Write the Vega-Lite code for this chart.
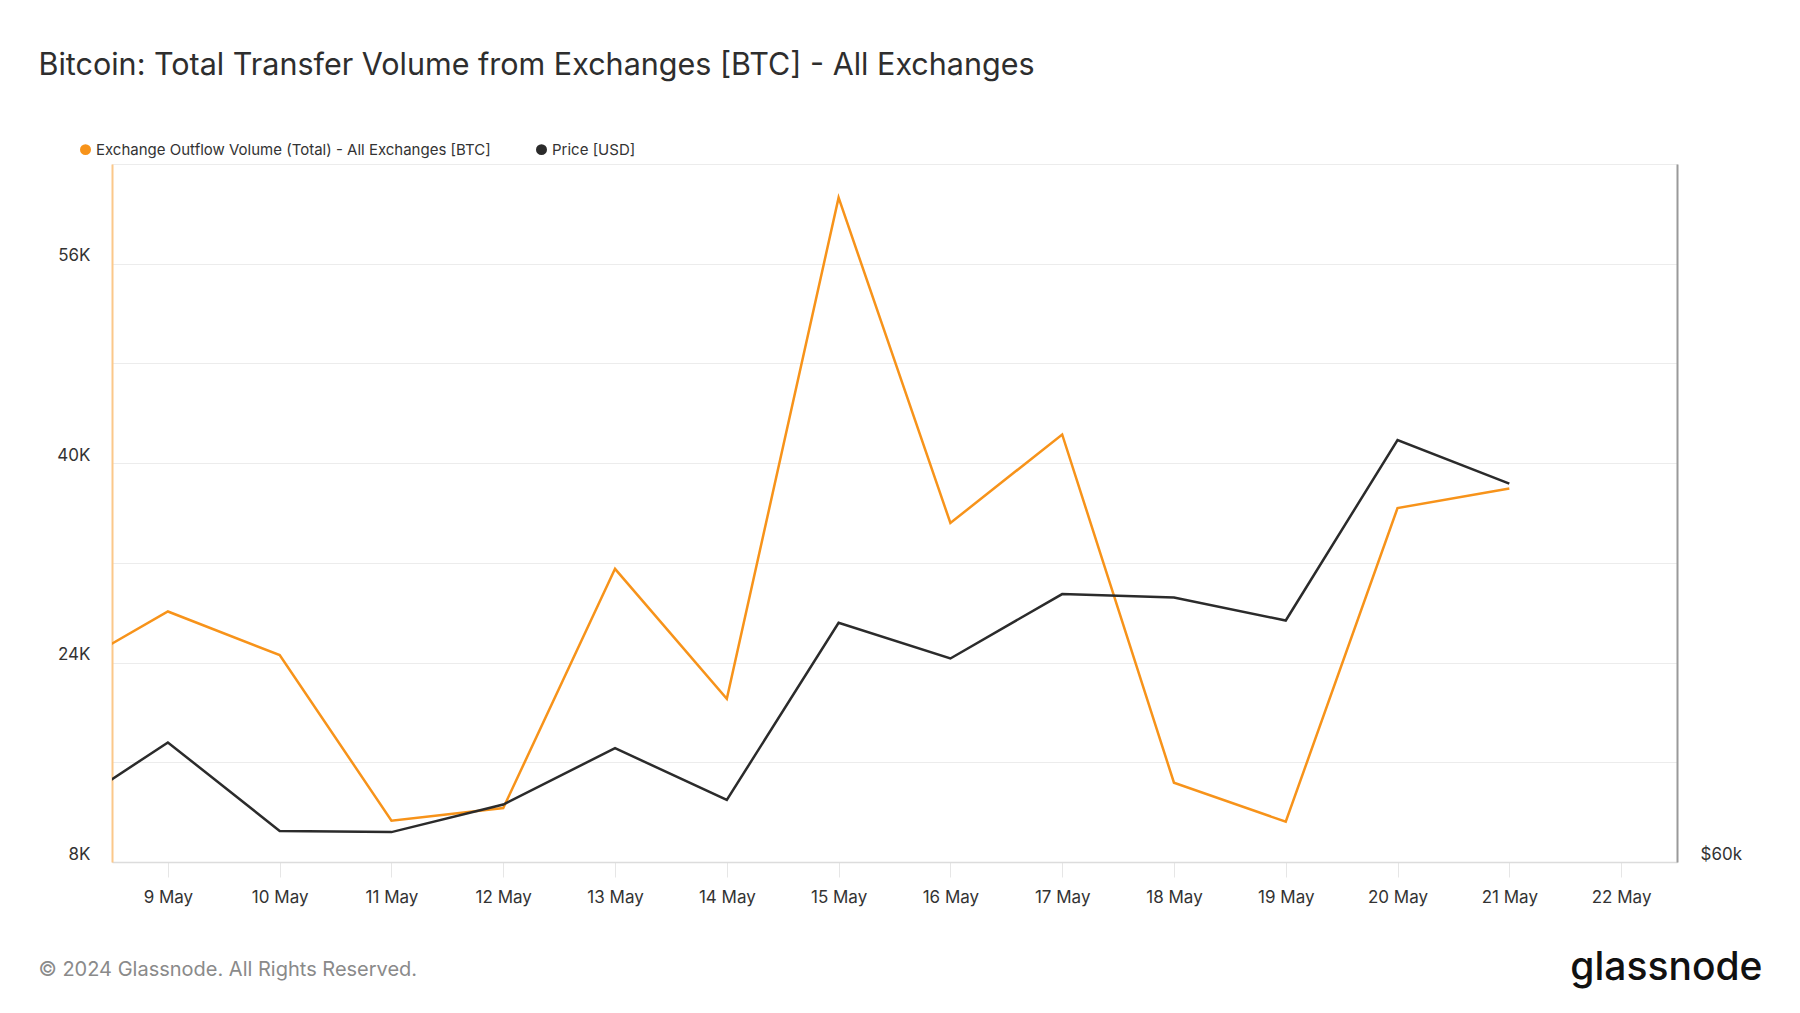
{
  "$schema": "https://vega.github.io/schema/vega-lite/v6.json",
  "width": 1565,
  "height": 698,
  "autosize": {"type": "none"},
  "padding": {"left": 112, "top": 164, "right": 123, "bottom": 151},
  "background": "#ffffff",
  "config": {
    "font": "Inter",
    "view": {"stroke": "#e8e8e8", "strokeWidth": 1},
    "line": {"strokeWidth": 2.5}
  },
  "data": {
    "values": [
      {"date": "2024-05-08", "outflow": 22940, "price": 61250},
      {"date": "2024-05-09", "outflow": 28100, "price": 63255},
      {"date": "2024-05-10", "outflow": 24600, "price": 60845},
      {"date": "2024-05-11", "outflow": 11320, "price": 60814},
      {"date": "2024-05-12", "outflow": 12330, "price": 61565},
      {"date": "2024-05-13", "outflow": 31520, "price": 63099},
      {"date": "2024-05-14", "outflow": 21100, "price": 61690},
      {"date": "2024-05-15", "outflow": 61300, "price": 66511},
      {"date": "2024-05-16", "outflow": 35200, "price": 65540},
      {"date": "2024-05-17", "outflow": 42300, "price": 67293},
      {"date": "2024-05-18", "outflow": 14360, "price": 67199},
      {"date": "2024-05-19", "outflow": 11230, "price": 66573},
      {"date": "2024-05-20", "outflow": 36400, "price": 71488},
      {"date": "2024-05-21", "outflow": 37970, "price": 70298}
    ]
  },
  "encoding": {
    "x": {
      "field": "date",
      "type": "temporal",
      "scale": {
        "type": "utc",
        "domain": [
          {"year": 2024, "month": 5, "date": 8, "hours": 12, "utc": true},
          {"year": 2024, "month": 5, "date": 22, "hours": 12, "utc": true}
        ]
      },
      "axis": {
        "values": [
          {"year": 2024, "month": 5, "date": 9, "utc": true},
          {"year": 2024, "month": 5, "date": 10, "utc": true},
          {"year": 2024, "month": 5, "date": 11, "utc": true},
          {"year": 2024, "month": 5, "date": 12, "utc": true},
          {"year": 2024, "month": 5, "date": 13, "utc": true},
          {"year": 2024, "month": 5, "date": 14, "utc": true},
          {"year": 2024, "month": 5, "date": 15, "utc": true},
          {"year": 2024, "month": 5, "date": 16, "utc": true},
          {"year": 2024, "month": 5, "date": 17, "utc": true},
          {"year": 2024, "month": 5, "date": 18, "utc": true},
          {"year": 2024, "month": 5, "date": 19, "utc": true},
          {"year": 2024, "month": 5, "date": 20, "utc": true},
          {"year": 2024, "month": 5, "date": 21, "utc": true},
          {"year": 2024, "month": 5, "date": 22, "utc": true}
        ],
        "labelExpr": "utcFormat(datum.value, '%-d %b')",
        "grid": false,
        "domainColor": "#dcdcdc",
        "domainWidth": 1.5,
        "tickColor": "#e6e6e6",
        "tickSize": 15,
        "labelFontSize": 17,
        "labelColor": "#333333",
        "labelPadding": 12,
        "title": "© 2024 Glassnode. All Rights Reserved.",
        "titleX": -74,
        "titleY": 107,
        "titleAlign": "left",
        "titleBaseline": "middle",
        "titleAnchor": null,
        "titleFontSize": 20,
        "titleFontWeight": "normal",
        "titleColor": "#8a8a8a"
      }
    },
    "color": {
      "type": "nominal",
      "scale": {
        "domain": ["Exchange Outflow Volume (Total) - All Exchanges [BTC]", "Price [USD]"],
        "range": ["#f7931a", "#2b2b2b"]
      },
      "legend": {
        "title": null,
        "orient": "none",
        "direction": "horizontal",
        "legendX": -34,
        "legendY": -22,
        "symbolType": "circle",
        "symbolSize": 72,
        "labelFontSize": 15,
        "labelColor": "#333333",
        "labelLimit": 0,
        "labelOffset": 3,
        "columnPadding": 41,
        "encoding": {
          "symbols": {
            "fill": {"value": {"expr": "scale('color', datum.value)"}}
          }
        }
      }
    }
  },
  "layer": [
    {
      "mark": {"type": "line", "clip": true},
      "encoding": {
        "color": {"datum": "Exchange Outflow Volume (Total) - All Exchanges [BTC]"},
        "y": {
          "field": "outflow",
          "type": "quantitative",
          "scale": {"domain": [8000, 64000], "nice": false, "zero": false},
          "axis": {
            "values": [8000, 16000, 24000, 32000, 40000, 48000, 56000, 64000],
            "labelExpr": "datum.value % 16000 == 8000 ? format(datum.value / 1000, 'd') + 'K' : ''",
            "grid": true,
            "gridColor": "#ececec",
            "gridWidth": 1,
            "ticks": false,
            "tickSize": 0,
            "domainColor": "#fbc88a",
            "domainWidth": 2,
            "labelFontSize": 17,
            "labelColor": "#333333",
            "labelPadding": 22,
            "labelBaseline": "alphabetic",
            "labelOffset": -3,
            "title": "Bitcoin: Total Transfer Volume from Exchanges [BTC] - All Exchanges",
            "titleAngle": 0,
            "titleX": -74,
            "titleY": -99,
            "titleAlign": "left",
            "titleBaseline": "middle",
            "titleFontSize": 30.5,
            "titleFontWeight": "normal",
            "titleColor": "#2e2e2e"
          }
        }
      }
    },
    {
      "mark": {"type": "line", "clip": true},
      "encoding": {
        "color": {"datum": "Price [USD]"},
        "y": {
          "field": "price",
          "type": "quantitative",
          "scale": {"domain": [60000, 79000], "nice": false, "zero": false},
          "axis": {
            "orient": "right",
            "values": [60000],
            "labelExpr": "'$' + format(datum.value / 1000, 'd') + 'k'",
            "grid": false,
            "ticks": false,
            "tickSize": 0,
            "domainColor": "#9a9a9a",
            "domainWidth": 2,
            "labelFontSize": 17,
            "labelColor": "#333333",
            "labelPadding": 23,
            "labelBaseline": "alphabetic",
            "labelOffset": -3,
            "title": "glassnode",
            "titleAngle": 0,
            "titleX": 85,
            "titleY": 803,
            "titleAlign": "right",
            "titleBaseline": "middle",
            "titleFontSize": 39,
            "titleFontWeight": 500,
            "titleColor": "#111111"
          }
        }
      }
    }
  ],
  "resolve": {"scale": {"y": "independent"}}
}
